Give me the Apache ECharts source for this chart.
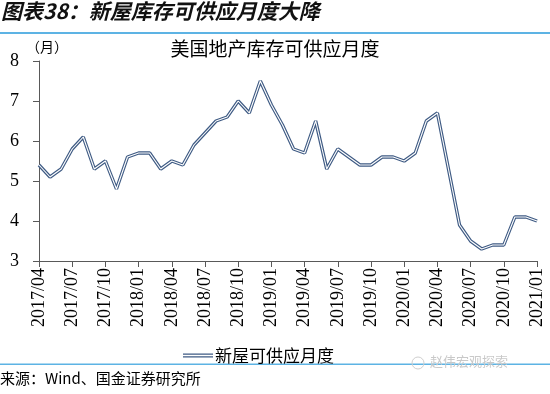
<!DOCTYPE html>
<html>
<head>
<meta charset="utf-8">
<script src="https://cdn.jsdelivr.net/npm/echarts@6/dist/echarts.min.js"></script>
<style>
html,body{margin:0;padding:0;background:#fff;}
#chart{width:550px;height:394px;}
</style>
</head>
<body>
<div id="chart"></div>
<script>
var categories = [
  '2017/04','2017/05','2017/06','2017/07','2017/08','2017/09','2017/10','2017/11','2017/12',
  '2018/01','2018/02','2018/03','2018/04','2018/05','2018/06','2018/07','2018/08','2018/09','2018/10','2018/11','2018/12',
  '2019/01','2019/02','2019/03','2019/04','2019/05','2019/06','2019/07','2019/08','2019/09','2019/10','2019/11','2019/12',
  '2020/01','2020/02','2020/03','2020/04','2020/05','2020/06','2020/07','2020/08','2020/09','2020/10','2020/11','2020/12',
  '2021/01'
];
var monthsSupply = [
  5.4,5.1,5.3,5.8,6.1,5.3,5.5,4.8,5.6,
  5.7,5.7,5.3,5.5,5.4,5.9,6.2,6.5,6.6,7.0,6.7,7.5,
  6.9,6.4,5.8,5.7,6.5,5.3,5.8,5.6,5.4,5.4,5.6,5.6,
  5.5,5.7,6.5,6.7,5.3,3.9,3.5,3.3,3.4,3.4,4.1,4.1,
  4.0
];
var seriesName = '新屋可供应月度';
var yTicks = [3, 4, 5, 6, 7, 8];

var cjk = '"Noto Sans CJK SC", sans-serif';
var serif = '"Liberation Serif", "DejaVu Serif", serif';
var lineColor = '#3f5b84';

var chart = echarts.init(document.getElementById('chart'), null, {renderer: 'canvas'});
chart.setOption({
  animation: false,
  backgroundColor: '#ffffff',
  grid: {left: 39, right: 13, top: 61, bottom: 133, containLabel: false},
  xAxis: {
    type: 'category',
    data: categories,
    boundaryGap: false,
    axisLine: {lineStyle: {color: '#595959', width: 1}},
    axisTick: {show: true, interval: 2, length: 6, inside: false, lineStyle: {color: '#595959'}},
    axisLabel: {
      interval: 2, rotate: 90, margin: 7,
      fontFamily: serif, fontSize: 18, color: '#000'
    },
    splitLine: {show: false}
  },
  yAxis: {
    type: 'value',
    min: yTicks[0], max: yTicks[yTicks.length - 1], interval: 1,
    axisLine: {show: true, lineStyle: {color: '#595959', width: 1}},
    axisTick: {show: true, length: 6, lineStyle: {color: '#595959'}},
    axisLabel: {margin: 20, fontFamily: serif, fontSize: 18, color: '#000'},
    splitLine: {show: false}
  },
  legend: {
    data: [{name: seriesName, icon: 'path://M0,0H30V1.3H0ZM0,2.7H30V4H0Z'}],
    left: 178, top: 342,
    itemWidth: 30, itemHeight: 4, itemGap: 10,
    textStyle: {fontFamily: cjk, fontSize: 17, color: '#000', padding: [0,0,0,-3]},
    itemStyle: {color: lineColor}
  },
  series: [
    {
      name: seriesName, type: 'line', data: monthsSupply,
      showSymbol: false, symbol: 'none',
      lineStyle: {color: lineColor, width: 3.4},
      itemStyle: {color: lineColor},
      z: 2
    },
    {
      name: '_inner', type: 'line', data: monthsSupply,
      showSymbol: false, symbol: 'none', silent: true,
      lineStyle: {color: '#ffffff', width: 1.1},
      itemStyle: {color: '#ffffff'},
      z: 3
    }
  ],
  graphic: [
    {type: 'text', left: 1, top: 1, style: {text: '图表38：新屋库存可供应月度大降', font: 'italic bold 21px ' + cjk, fill: '#111'}},
    {type: 'rect', shape: {x: 0, y: 32, width: 550, height: 2}, style: {fill: '#5db3e4'}},
    {type: 'text', left: 26, top: 40, style: {text: '（月）', font: '14px ' + cjk, fill: '#000'}},
    {type: 'text', x: 275, y: 49, style: {text: '美国地产库存可供应月度', font: '19px ' + cjk, fill: '#000', align: 'center', verticalAlign: 'middle'}},
    {type: 'rect', shape: {x: 0, y: 363.5, width: 550, height: 1.5}, style: {fill: '#5db3e4'}},
    {type: 'text', left: 0, top: 371, style: {text: '来源：Wind、国金证券研究所', font: '15px ' + cjk, fill: '#000'}},
    {type: 'text', left: 430, top: 355, style: {text: '赵伟宏观探索', font: '13px ' + cjk, fill: '#c9c9c9'}},
    {type: 'circle', shape: {cx: 418, cy: 363, r: 6}, style: {fill: 'none', stroke: '#cfcfcf', lineWidth: 1}}
  ]
});
</script>
</body>
</html>
